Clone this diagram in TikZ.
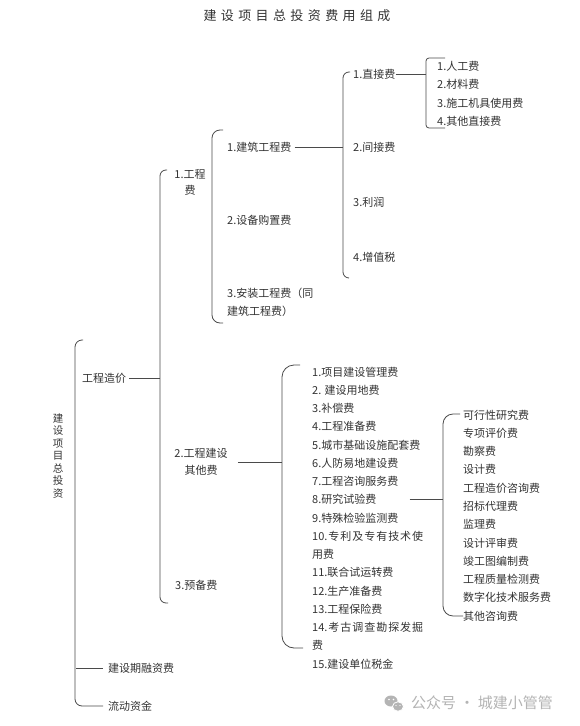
\documentclass[tikz,border=0pt]{standalone}
\usepackage{fontspec}
\setmainfont{Noto Sans CJK SC}
\definecolor{txt}{HTML}{333333}
\definecolor{ln}{HTML}{4A4A4A}
\definecolor{wm}{HTML}{B4B4B4}
\begin{document}
\begin{tikzpicture}[x=1pt,y=-1pt,
  lbl/.style={anchor=west,inner sep=0pt,text=txt,font=\fontsize{11}{18}\selectfont},
  brk/.style={draw=ln,line width=0.8pt,rounded corners=#1},
  brk/.default=6pt,
  conn/.style={draw=ln,line width=0.7pt}]
\useasboundingbox[fill=white] (0,0) rectangle (579,726);

% title
\node[inner sep=0pt,text=txt,font=\fontsize{13}{13}\selectfont] (title) at (297,16)
  {\makebox[187pt][s]{建\hfill 设\hfill 项\hfill 目\hfill 总\hfill 投\hfill 资\hfill 费\hfill 用\hfill 组\hfill 成}};

% root
\node[lbl,anchor=center,align=center,font=\fontsize{10.5}{12.5}\selectfont] (root) at (58,456)
  {建\\设\\项\\目\\总\\投\\资};

% level 0 children
\node[lbl] (gczj) at (82,378) {工程造价};
\node[lbl] (jsq)  at (108,668) {建设期融资费};
\node[lbl] (ldzj) at (108,706) {流动资金};

% level 1 children
\node[lbl,anchor=center,align=center,font=\fontsize{11}{16}\selectfont] (gcf) at (190,182.5) {1.工程\\费};
\node[lbl,anchor=center,align=center,font=\fontsize{11}{17}\selectfont] (qtf) at (201,462) {2.工程建设\\其他费};
\node[lbl] (ybf) at (175,585) {3.预备费};

% level 2 children
\node[lbl] (jzgc) at (227,147) {1.建筑工程费};
\node[lbl] (sbgz) at (227,220) {2.设备购置费};
\node[lbl,align=left] (azgc) at (227,302) {3.安装工程费（同\\建筑工程费）};

% level 3 children
\node[lbl] (zjf) at (353,74) {1.直接费};
\node[lbl] (jjf) at (353,147) {2.间接费};
\node[lbl] (lr)  at (353,202) {3.利润};
\node[lbl] (zzs) at (353,257) {4.增值税};

% direct cost items
\node[lbl] (d1) at (437,66) {1.人工费};
\node[lbl] (d2) at (437,84.5) {2.材料费};
\node[lbl] (d3) at (437,103) {3.施工机具使用费};
\node[lbl] (d4) at (437,121.5) {4.其他直接费};

% other costs list
\foreach \t [count=\k from 0] in {
  {1.项目建设管理费},{2. 建设用地费},{3.补偿费},{4.工程准备费},{5.城市基础设施配套费},
  {6.人防易地建设费},{7.工程咨询服务费},{8.研究试验费},{9.特殊检验监测费},
  {\makebox[111pt][s]{10.\hfill 专\hfill 利\hfill 及\hfill 专\hfill 有\hfill 技\hfill 术\hfill 使}},
  {用费},{11.联合试运转费},{12.生产准备费},{13.工程保险费},
  {\makebox[111pt][s]{14.\hfill 考\hfill 古\hfill 调\hfill 查\hfill 勘\hfill 探\hfill 发\hfill 掘}},
  {费},{15.建设单位税金}}
  \node[lbl] (p\k) at (312,{372+18.25*\k}) {\t};

% consulting list
\foreach \t [count=\k from 0] in {
  可行性研究费,专项评价费,勘察费,设计费,工程造价咨询费,招标代理费,监理费,
  设计评审费,竣工图编制费,工程质量检测费,数字化技术服务费,其他咨询费}
  \node[lbl] (q\k) at (463,{415+18.27*\k}) {\t};

% spine coordinates
\coordinate (s1) at (160,378);
\coordinate (s3) at (343,147);
\coordinate (s4) at (426,74);
\coordinate (s5) at (282,462);
\coordinate (s6) at (443,500);

% brackets
\draw[brk=7pt] (83,340) -- (75,340) -- (75,706) -- ([xshift=-5pt]ldzj.west);
\draw[brk=6pt] (167,170) -- (160,170) -- (160,603) -- (168,603);
\draw[brk=8pt] (223,130) -- (212,130) -- (212,323) -- (223,323);
\draw[brk=6pt] (350,72) -- (343,72) -- (343,278) -- (349,278);
\draw[brk=3pt] (445,58) -- (426,58) -- (426,128) -- (445,128);
\draw[brk=12pt] (300,365) -- (282,365) -- (282,648) -- (303,648);
\draw[brk=10pt] (460,414) -- (443,414) -- (443,616) -- (q11.west);

% connectors
\draw[conn] (76,668) -- ([xshift=-5pt]jsq.west);
\draw[conn] ([xshift=3pt]gczj.east) -- (s1);
\draw[conn] ([xshift=3pt]jzgc.east) -- (s3);
\draw[conn] (zjf.east) -- (s4);
\draw[conn] ([xshift=10pt]qtf.east |- s5) -- (s5);
\draw[conn] ([xshift=33pt]p7.east) -- (p7.east -| s6);

% watermark
\fill[wm] (391,701) ellipse (6.5pt and 5.5pt);
\draw[wm,fill=wm,draw=white,line width=0.8pt] (398,706.5) ellipse (5.5pt and 4.7pt);
\fill[white] (389,699.5) circle (0.9pt) (393.5,699.5) circle (0.9pt);
\fill[white] (396,705.5) circle (0.7pt) (400,705.5) circle (0.7pt);
\node[inner sep=0pt,anchor=west,text=wm,font=\fontsize{15}{15}\selectfont] (wmk) at (411,703) {公众号 · 城建小管管};
\end{tikzpicture}
\end{document}
